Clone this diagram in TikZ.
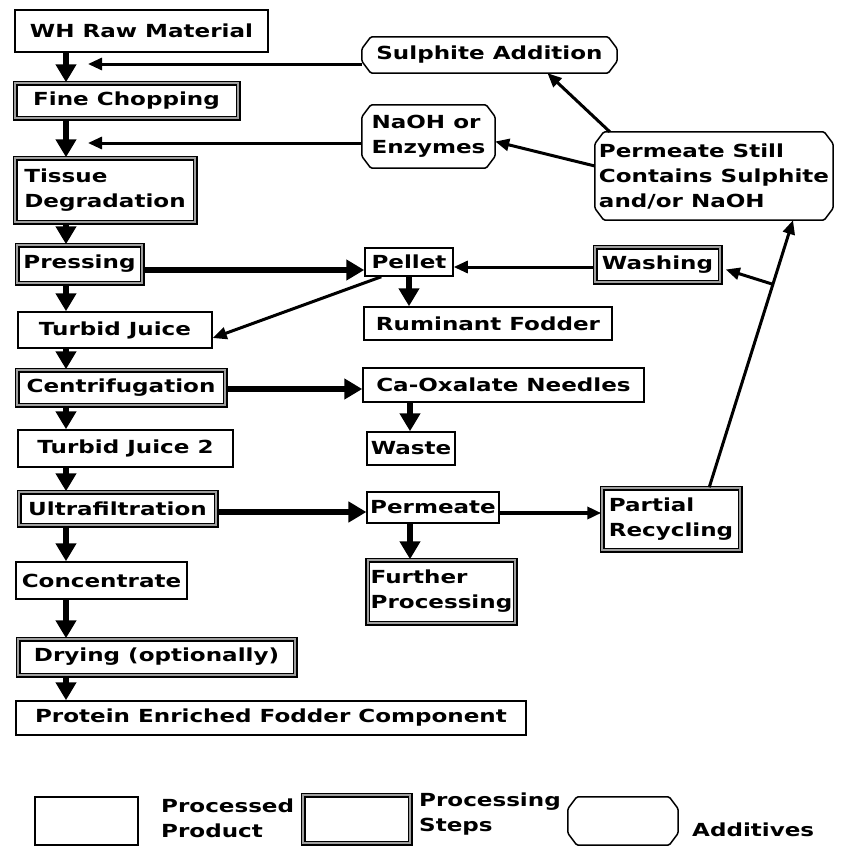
\documentclass[tikz,border=0pt]{standalone}
\usepackage{fontspec}
\newfontfamily\flowfont{DejaVu Sans}[FakeStretch=1.28]
\usetikzlibrary{arrows.meta,calc}

% outline of an additive box: a rectangle with cut corners
\newcommand\chamferbox[1]{%
  \draw[line width=1.5pt, rounded corners=1.5pt]
    ([xshift=9pt]#1.north west) -- ([xshift=-9pt]#1.north east)
    -- ([yshift=-12pt]#1.north east) -- ([yshift=12pt]#1.south east)
    -- ([xshift=-9pt]#1.south east) -- ([xshift=9pt]#1.south west)
    -- ([yshift=12pt]#1.south west) -- ([yshift=-12pt]#1.north west) -- cycle;}

\tikzset{
  base/.style={font=\flowfont\bfseries\fontsize{18}{25}\selectfont,
    align=left, inner xsep=3pt, inner ysep=2pt},
  product/.style={base, draw, line width=1.5pt, fill=white},
  stepbox/.style={base, draw, line width=1.5pt, double=gray!75,
    double distance=2pt, fill=white},
  additive/.style={base},
  flow/.style={line width=6pt, -{Triangle[width=20pt,length=18pt]}},
  feed/.style={line width=3pt, -{Triangle[width=12pt,length=14pt]}},
}

\begin{document}
\begin{tikzpicture}[x=1pt,y=-1pt]
\useasboundingbox (0,0) rectangle (844,847);
\fill[white] (0,0) rectangle (844,847);

% main processing line
\node[product, minimum width=253pt, minimum height=42pt] (wh) at (141.5,31) {WH Raw Material};
\node[stepbox, minimum width=223pt, minimum height=35pt] (fine) at (126.5,100.5) {Fine Chopping};
\node[stepbox, minimum width=180pt, minimum height=64pt] (tissue) at (105,190) {Tissue\\Degradation};
\node[stepbox, minimum width=125pt, minimum height=38pt] (pressing) at (79.5,264) {Pressing};
\node[product, minimum width=194pt, minimum height=36pt] (turbid) at (115,330) {Turbid Juice};
\node[stepbox, minimum width=208pt, minimum height=35pt] (centri) at (121,387.5) {Centrifugation};
\node[product, minimum width=215pt, minimum height=37pt] (turbid2) at (125.5,448.5) {Turbid Juice 2};
\node[stepbox, minimum width=197pt, minimum height=33pt] (ultra) at (117.5,508.5) {Ultrafiltration};
\node[product, minimum width=171pt, minimum height=37pt] (conc) at (101.5,580.5) {Concentrate};
\node[stepbox, minimum width=277pt, minimum height=36pt] (drying) at (156.5,657) {Drying (optionally)};
\node[product, minimum width=510pt, minimum height=34pt] (protein) at (271,718) {Protein Enriched Fodder Component};

% side branches
\node[product, minimum width=88pt, minimum height=28pt] (pellet) at (409,262) {Pellet};
\node[stepbox, minimum width=125pt, minimum height=35pt] (washing) at (657.5,264.5) {Washing};
\node[product, minimum width=248pt, minimum height=33pt] (rumin) at (488,323.5) {Ruminant Fodder};
\node[product, minimum width=281pt, minimum height=34pt] (caox) at (503.5,385) {Ca-Oxalate Needles};
\node[product, minimum width=88pt, minimum height=33pt] (waste) at (411,448.5) {Waste};
\node[product, minimum width=130pt, minimum height=31pt] (perm) at (433,507.5) {Permeate};
\node[stepbox, minimum width=147pt, minimum height=63pt] (further) at (441.5,591.5) {Further\\Processing};
\node[stepbox, minimum width=138pt, minimum height=62pt] (partial) at (671,519) {Partial\\Recycling};

% additives
\node[additive, minimum width=255pt, minimum height=36pt] (sulph) at (489.5,55) {Sulphite Addition};
\node[additive, minimum width=133pt, minimum height=63pt] (naoh) at (428.5,136.5) {NaOH or\\Enzymes};
\node[additive, minimum width=238pt, minimum height=88pt] (permstill) at (714,176) {Permeate Still\\Contains Sulphite\\and/or NaOH};
\chamferbox{sulph}
\chamferbox{naoh}
\chamferbox{permstill}

% flow along the main line
\coordinate (spine) at (66,0);
\draw[flow] (wh.south -| spine) -- (fine.north -| spine);
\draw[flow] (fine.south -| spine) -- (tissue.north -| spine);
\draw[flow] (tissue.south -| spine) -- (pressing.north -| spine);
\draw[flow] (pressing.south -| spine) -- (turbid.north -| spine);
\draw[flow] (turbid.south -| spine) -- (centri.north -| spine);
\draw[flow] (centri.south -| spine) -- (turbid2.north -| spine);
\draw[flow] (turbid2.south -| spine) -- (ultra.north -| spine);
\draw[flow] (ultra.south -| spine) -- (conc.north -| spine);
\draw[flow] (conc.south -| spine) -- (drying.north -| spine);
\draw[flow] (drying.south -| spine) -- (protein.north -| spine);

% additive inputs
\coordinate (sulphin) at (88,64);
\coordinate (naohin) at (88,143);
\draw[feed] (sulphin -| sulph.west) -- (sulphin);
\draw[feed] (naohin -| naoh.west) -- (naohin);
\draw[feed] ([xshift=15pt]permstill.north west) -- ([xshift=58pt]sulph.south);
\draw[feed] ([yshift=10pt]permstill.west) -- ([yshift=-5pt]naoh.east);

% branches to the right
\coordinate (pp) at (0,270);
\coordinate (wp) at (0,267);
\coordinate (cc) at (0,389);
\coordinate (up) at (0,512);
\coordinate (pr) at (0,513);
\coordinate (cw) at (410,0);
\draw[flow] (pressing.east |- pp) -- (pellet.west |- pp);
\draw[feed] ([xshift=17pt]pellet.south west) -- ([yshift=-8pt]turbid.east);
\draw[flow] (pellet.south) -- (pellet.south |- rumin.north);
\draw[feed] (washing.west |- wp) -- (pellet.east |- wp);
\draw[flow] (centri.east |- cc) -- (caox.west |- cc);
\draw[flow] (caox.south -| cw) -- (waste.north -| cw);
\draw[flow] (ultra.east |- up) -- (perm.west |- up);
\draw[flow] (perm.south -| cw) -- (further.north -| cw);
\draw[feed, line width=3.5pt] (perm.east |- pr) -- (partial.west |- pr);

% recycling of the permeate
\coordinate (rs) at ([xshift=108pt]partial.north west);
\coordinate (re) at ([xshift=79pt]permstill.south);
\coordinate (jn) at ($(rs)!0.76!(re)$);
\draw[feed] (rs) -- (re);
\draw[feed] (jn) -- ([xshift=5pt,yshift=-5pt]washing.east);

% legend
\node[product, minimum width=103pt, minimum height=48pt] (lgprod) at (86.5,821) {};
\node[base, anchor=west] (lgprodtxt) at (158,818) {Processed\\Product};
\node[stepbox, minimum width=107pt, minimum height=48pt] (lgstep) at (356.5,819) {};
\node[base, anchor=west] (lgsteptxt) at (416,814) {Processing\\Steps};
\node[additive, minimum width=110pt, minimum height=48pt] (lgadd) at (623,821) {};
\chamferbox{lgadd}
\node[base, anchor=west] (lgaddtxt) at (689,830) {Additives};
\end{tikzpicture}
\end{document}
